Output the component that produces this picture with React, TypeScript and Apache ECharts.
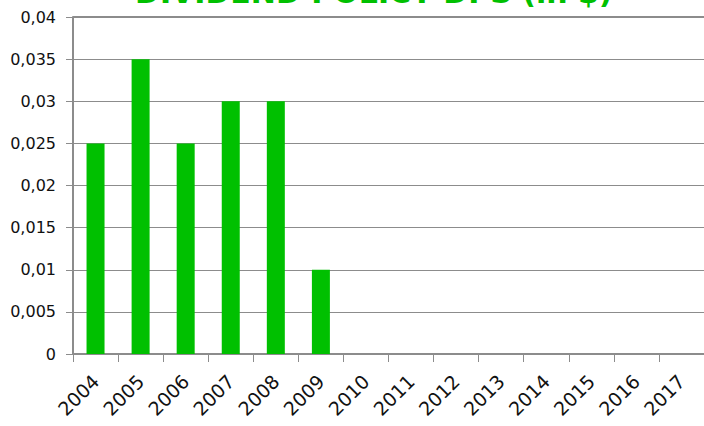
import React, { useEffect, useRef } from "react";
import * as echarts from "echarts";

const title = "DIVIDEND POLICY DPS (in $)";
const years = ["2004", "2005", "2006", "2007", "2008", "2009", "2010", "2011", "2012", "2013", "2014", "2015", "2016", "2017"];
const dps = [0.025, 0.035, 0.025, 0.03, 0.03, 0.01, null, null, null, null, null, null, null, null];
const yMin = 0;
const yMax = 0.04;
const yStep = 0.005;

const GREEN = "#00C000";
const FONT = "DejaVu Sans";

export default function App() {
  const ref = useRef<HTMLDivElement>(null);
  useEffect(() => {
    if (!ref.current) return;
    const chart = echarts.init(ref.current, null, { renderer: "svg" });
    chart.setOption({
      animation: false,
      backgroundColor: "#ffffff",
      graphic: [
        {
          type: "text",
          left: 135,
          top: -23,
          style: {
            text: title,
            font: `bold 30px "${FONT}"`,
            fill: GREEN,
          },
        },
      ],
      grid: { left: 73, top: 17, bottom: 72, width: 638, containLabel: false },
      xAxis: {
        type: "category",
        data: years,
        axisLine: { show: true, lineStyle: { color: "#8c8c8c", width: 2 } },
        axisTick: { show: true, alignWithLabel: false, length: 8, lineStyle: { color: "#8c8c8c", width: 1 } },
        axisLabel: {
          rotate: 45,
          interval: 0,
          margin: 24,
          color: "#111",
          fontFamily: FONT,
          fontSize: 19,
        },
      },
      yAxis: {
        type: "value",
        min: yMin,
        max: yMax,
        interval: yStep,
        axisLine: { show: true, lineStyle: { color: "#8c8c8c", width: 2 } },
        axisTick: { show: true, length: 7, lineStyle: { color: "#8c8c8c", width: 1 } },
        splitLine: { show: true, lineStyle: { color: "#8c8c8c", width: 1 } },
        axisLabel: {
          margin: 17,
          color: "#111",
          fontFamily: FONT,
          fontSize: 16,
          formatter: (v: number) => String(Number(v.toFixed(4))).replace(".", ","),
        },
      },
      series: [
        {
          type: "bar",
          data: dps,
          barWidth: 18,
          itemStyle: { color: GREEN },
          markLine: {
            silent: true,
            symbol: "none",
            label: { show: false },
            lineStyle: { color: "#8c8c8c", width: 2, type: "solid" },
            data: [{ yAxis: yMax }],
          },
        },
      ],
    });
    return () => chart.dispose();
  }, []);
  return <div ref={ref} style={{ width: 704, height: 426, position: "absolute", left: 0, top: 0 }} />;
}
